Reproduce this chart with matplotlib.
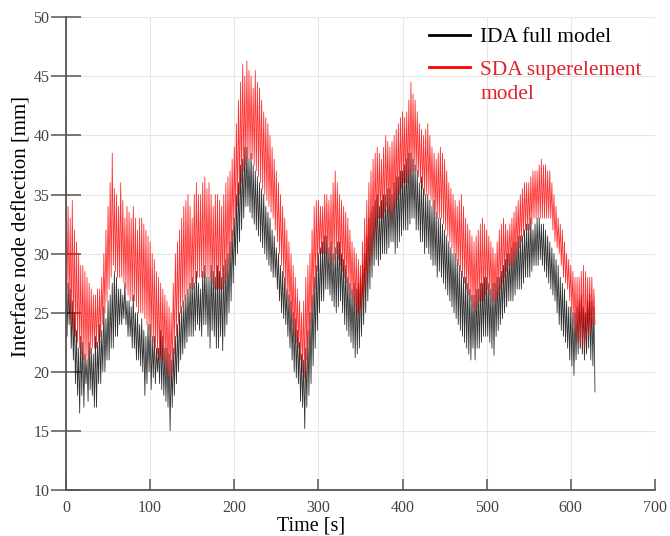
import numpy as np
import matplotlib
matplotlib.use("Agg")
import matplotlib.pyplot as plt
from matplotlib.legend_handler import HandlerLine2D

plt.rcParams['font.family'] = ['Liberation Serif', 'DejaVu Serif']

# Sampling: a crest every 2.5 s, a trough 1.25 s after each crest
step_s = 2.5

ida_peaks = [28.5, 27.5, 27, 26, 25, 23.5, 22, 23, 22.5, 21.5, 21, 22.5, 22, 21.5, 23, 22.5, 24, 23.5, 25.5, 24.5,
             26, 26.5, 27.5, 28.5, 28, 27, 27, 26.5, 27.5, 26, 26, 25.5, 26.5, 25, 25, 24, 24.5, 23.5, 23, 24,
             24, 23, 23, 22, 22, 23.5, 23, 22, 22, 21.5, 21, 22, 23, 24, 25, 25.5, 26, 26.5, 27, 27.5,
             28, 27.5, 28.5, 27.5, 27, 28.5, 29, 28, 28, 29, 28.5, 28, 29, 28.5, 28, 29, 29.5, 30, 31, 32,
             33, 35, 36, 37.5, 38, 39, 39, 38, 38.5, 37.5, 37, 36.5, 36, 35.5, 35, 34, 33.5, 33, 32, 31.5,
             30.5, 30, 29, 28.5, 28, 27, 26.5, 26, 25, 24.5, 23.5, 22.5, 21.5, 21, 22, 23.5, 25, 26.5, 28, 29,
             30, 30.5, 31, 31.5, 31.5, 30.5, 31, 30, 30.5, 31, 31, 30, 29.5, 29, 28, 27.5, 27, 27.5, 27, 27.5,
             28, 29, 30, 31.5, 33, 33.5, 34, 34.5, 35, 34, 34.5, 35, 35, 35.5, 35.5, 35, 36, 36.5, 36.5, 37,
             37, 37.5, 38, 38.5, 38.5, 38, 37.5, 37, 36, 36.5, 35.5, 35, 35, 34.5, 34, 34.5, 33.5, 33, 33, 32.5,
             32, 31.5, 31, 30.5, 30, 30, 29.5, 29, 28.5, 28, 28, 27.5, 27, 26.5, 26.5, 27, 27, 27.5, 27.5, 28,
             28, 27.5, 27, 27.5, 27.5, 28, 28, 28.5, 29, 29.5, 30, 30, 30.5, 31, 31, 31.5, 31.5, 31.5, 32, 32.5,
             32.5, 33, 32, 32.5, 33, 33, 32.5, 32.5, 32, 31.5, 31, 30.5, 30, 29.5, 29, 28, 27.5, 27, 26, 25.5,
             25.5, 25, 25, 25.5, 26, 26.5, 25.5, 25, 26, 26.5, 26, 25.5]

ida_troughs = [23, 24, 22, 21, 19, 18, 16.5, 18, 17, 19, 17.5, 18.5, 18, 17, 17, 19, 19, 20, 20, 21,
               21, 22, 22, 23, 23, 24, 24, 24.5, 24, 23, 23, 22, 22, 21, 21, 20.5, 20, 18, 19, 20,
               18.5, 19.5, 19, 20, 19, 18.5, 18, 17.5, 17, 15, 17, 18, 19, 20, 21, 21.5, 22, 22.5, 23, 23,
               23, 23.5, 24, 23.5, 23, 24, 24, 23, 22, 23.5, 23, 22, 22, 23, 21.8, 23, 24, 25, 26, 27.5,
               29, 30, 31, 32, 33, 34, 34, 33.5, 33, 32.5, 32, 31.5, 31, 30.5, 30, 29.5, 29, 28.5, 28, 28,
               27, 26, 25, 24.5, 24, 23, 22, 21, 20, 19.5, 19, 17.5, 17, 15.2, 17, 18, 19, 20.5, 22, 23.5,
               25, 26, 26, 27, 27, 26.5, 26, 25.5, 25, 25.5, 26, 25, 24, 23.5, 23, 22.5, 22, 21.2, 21.5, 22,
               23, 24, 25, 26, 27, 28, 29, 29.5, 29, 29.5, 30, 30, 30, 30.5, 31, 31, 30, 30.5, 31, 31.5,
               32, 32, 32, 32.5, 33, 33, 32, 32, 31, 31, 30, 30.5, 30, 29.5, 29, 29, 28, 28.5, 28, 27.5,
               27, 26.5, 26, 25.5, 25, 24.5, 24, 23.5, 23, 22.5, 22, 21.5, 21, 22, 21, 22, 22, 22.5, 23, 23,
               23, 22.5, 22, 21.4, 23, 23.5, 24, 24.5, 25, 25.5, 26, 26, 26, 26.5, 27, 27, 27, 27.5, 28, 28,
               28, 28.5, 29, 29, 29, 29.5, 29, 28.5, 28, 27.5, 27, 26.5, 26, 25, 24, 23.5, 23, 22.5, 22, 21,
               20.5, 19.7, 21, 21.5, 22, 21.5, 21, 21.5, 22, 21, 20.5, 18.3]

sda_peaks = [36.5, 34, 33, 34.5, 32, 31, 30, 29, 29, 28.5, 28, 27.5, 27, 26.5, 26.5, 27, 27, 28, 30, 32,
             34, 36, 38.5, 35.5, 35, 34, 36, 34.5, 33, 34, 33.5, 33, 34, 33, 32, 33, 33, 32.5, 32, 31.5,
             31, 30, 29.5, 28.5, 28, 27.5, 27, 26.5, 26, 25.5, 25, 27.5, 30, 31, 32, 33, 34, 34.5, 35, 34,
             33, 35, 36, 35, 35, 36, 36.5, 35.5, 36, 35, 34, 35, 35, 34.5, 34, 35, 36, 36.5, 37, 38,
             39, 41, 43, 44.5, 46, 45, 46.3, 45.5, 45, 44, 45.5, 44.5, 44, 43, 42, 41.5, 41, 40, 39, 38,
             37, 36, 35, 34, 33, 32, 31, 30, 29, 28, 27, 26, 25, 26, 28, 29, 30, 32, 34, 34.5,
             34.5, 34, 34, 35, 35, 34.5, 35, 36, 37, 36, 35, 34.5, 34, 33.5, 33, 32, 31, 30.5, 30, 29.5,
             29, 31, 33, 34.5, 36, 37, 38, 38.5, 39, 38.5, 38, 39, 40, 39.5, 39, 39.5, 40, 40.5, 41, 41.5,
             42, 41.5, 42, 43, 44.5, 43.5, 43, 42, 41, 40.5, 40, 40.5, 41, 40, 39, 38.5, 38, 38.5, 39, 38.5,
             38, 37, 36, 35.5, 35, 34.5, 34, 34.5, 35, 34, 33, 32.5, 32, 31.5, 31, 31.5, 32, 32.5, 33, 32.5,
             32, 31.5, 31, 30.5, 30, 31, 32, 32.5, 33, 32.5, 32, 32.5, 33, 33.5, 34, 34.5, 35, 35.5, 36, 36,
             36, 36.5, 37, 37, 37, 37.5, 38, 37.5, 37.5, 37, 37, 36, 35, 34, 33, 32.5, 32, 31, 30, 29.5,
             29, 28.5, 28, 28, 28, 28.5, 29, 28.5, 28, 28, 28, 27]

sda_troughs = [27, 25.5, 24, 23.5, 23, 22.5, 22, 21.5, 21, 21, 21, 21.5, 22, 22, 22, 22.5, 23, 24, 25, 26,
               27, 28, 29, 28.5, 28, 28, 28, 27.5, 27, 26.5, 26, 26, 26, 25.5, 25, 25, 25, 24.5, 24, 23.5,
               23, 22.5, 22, 21.5, 21, 21, 21, 20.5, 19.5, 19.5, 20, 21.5, 23, 24, 25, 25.5, 26, 26.5, 27, 27,
               27, 27.5, 28, 28, 28, 28, 28, 28, 28, 27.5, 27, 27, 27, 27, 27, 27.5, 28, 29, 30, 31.5,
               33, 34, 35, 36, 37, 37.5, 38, 38, 38, 37.5, 37, 36.5, 36, 35.5, 35, 34.5, 34, 33.5, 33, 32,
               31, 30, 29, 28, 27, 26, 25, 24, 23, 22.5, 22, 21, 20, 19.5, 21, 22.5, 24, 25.5, 27, 28.5,
               30, 30, 30, 30, 30, 29.5, 29, 29.5, 30, 29.5, 29, 28.5, 28, 27.5, 27, 26.5, 26, 25.5, 25, 25,
               25, 26, 27, 28, 29, 30, 31, 32, 33, 33, 33, 33.5, 34, 33.5, 33, 33.5, 34, 34.5, 35, 35.5,
               36, 36, 36, 36.5, 37, 37, 37, 36.5, 36, 35.5, 35, 35, 35, 34.5, 34, 33.5, 33, 33, 33, 32.5,
               32, 31.5, 31, 30.5, 30, 29.5, 29, 28.5, 28, 27.5, 27, 26.5, 26, 25.5, 25, 25.5, 26, 26, 26, 26.5,
               27, 26.5, 26, 26, 26, 26.5, 27, 27.5, 28, 28.5, 29, 29, 29, 29.5, 30, 30.5, 31, 31.5, 32, 32,
               32, 32.5, 33, 33, 33, 33, 33, 33, 33, 33, 33, 32, 31, 30.5, 30, 29, 28, 27.5, 27, 26,
               25, 24, 23, 22.5, 22, 22.5, 22, 23, 23, 23.5, 24, 24]

x_ticks = [0, 100, 200, 300, 400, 500, 600, 700]
y_ticks = [10, 15, 20, 25, 30, 35, 40, 45, 50]
label_ida = "IDA full model"
label_sda = "SDA superelement\nmodel"
x_label = "Time [s]"
y_label = "Interface node deflection [mm]"


def zigzag(peaks, troughs):
    t_p = np.arange(len(peaks)) * step_s
    t_t = t_p + step_s / 2
    t = np.column_stack([t_p, t_t]).ravel()
    y = np.column_stack([peaks, troughs]).ravel()
    return t, y


class RaisedLineHandler(HandlerLine2D):
    """Legend handle aligned with the first line of a two-line label."""
    def __init__(self, raise_frac=0.0, **kw):
        super().__init__(**kw)
        self.raise_frac = raise_frac

    def create_artists(self, legend, orig_handle, xdescent, ydescent,
                       width, height, fontsize, trans):
        arts = super().create_artists(legend, orig_handle, xdescent, ydescent,
                                      width, height, fontsize, trans)
        for a in arts:
            a.set_ydata(np.asarray(a.get_ydata()) + self.raise_frac * fontsize)
        return arts


fig = plt.figure(figsize=(6.7, 5.36), dpi=100)
ax = fig.add_axes([0.0985, 0.0858, 0.879, 0.882])

t_i, y_i = zigzag(ida_peaks, ida_troughs)
t_s, y_s = zigzag(sda_peaks, sda_troughs)
h_i, = ax.plot(t_i, y_i, color='black', lw=0.6, alpha=0.8, label=label_ida)
h_s, = ax.plot(t_s, y_s, color='#ff0000', lw=0.6, alpha=0.8, label=label_sda)

ax.set_xlim(0, 700)
ax.set_ylim(10, 50)
ax.set_xticks(x_ticks)
ax.set_yticks(y_ticks)
ax.grid(True, color='#e6e6e6', lw=0.8)
ax.set_axisbelow(True)
for s in ['top', 'right']:
    ax.spines[s].set_visible(False)
for s in ['left', 'bottom']:
    ax.spines[s].set_color('#555555')
    ax.spines[s].set_linewidth(1.3)
ax.tick_params(axis='y', direction='inout', length=22, width=1.1, color='#555555',
               labelsize=11.5, labelcolor='#444444', pad=1)
ax.tick_params(axis='x', direction='in', length=8, width=1.1, color='#555555',
               labelsize=11.5, labelcolor='#444444', pad=7)
ax.set_xlabel(x_label, fontsize=14.5)
ax.set_ylabel(y_label, fontsize=15)
ax.xaxis.set_label_coords(0.416, -0.057)
ax.yaxis.set_label_coords(-0.058, 0.558)

leg = ax.legend(loc='upper left', bbox_to_anchor=(0.583, 1.019), frameon=False,
                fontsize=15.4, handlelength=1.95, handletextpad=0.47, labelspacing=0.62,
                handler_map={h_s: RaisedLineHandler(raise_frac=0.68)})
for line in leg.get_lines():
    line.set_linewidth(2.0)
    line.set_alpha(1)
leg.get_texts()[1].set_color('#e0202a')
leg.get_texts()[1].set_linespacing(1.35)

fig.savefig('out.png', dpi=100)
